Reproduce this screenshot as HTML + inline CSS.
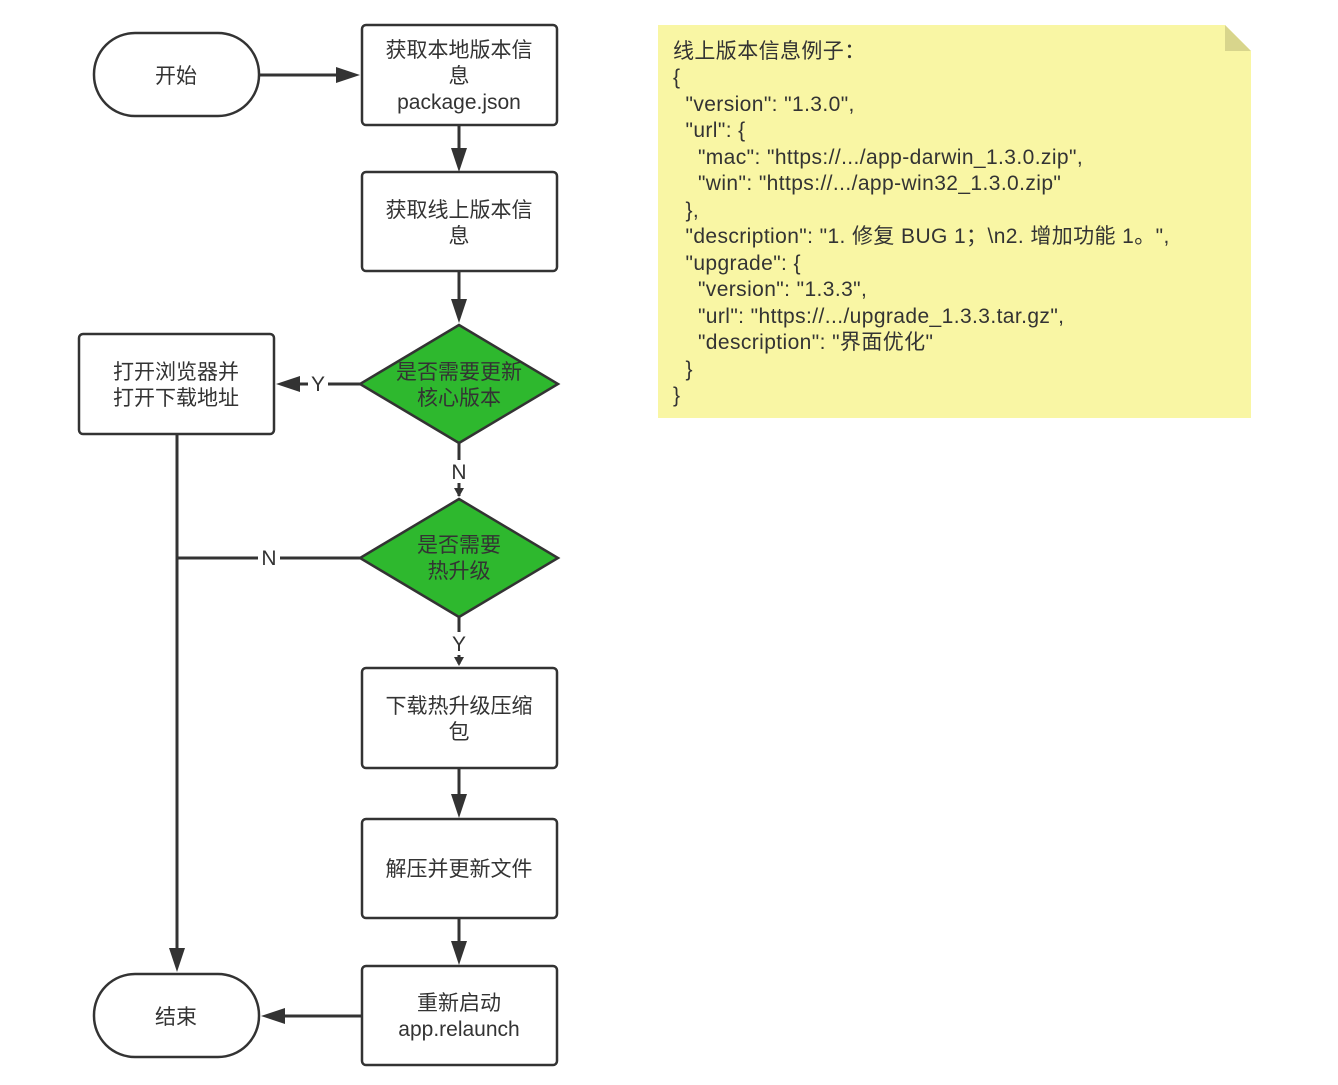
<!DOCTYPE html>
<html><head><meta charset="utf-8"><style>
body{margin:0;background:#fff;}
svg text{font-family:"Liberation Sans","Noto Sans CJK SC",sans-serif;font-size:21px;fill:#333;}
</style></head><body>
<svg width="1338" height="1080" viewBox="0 0 1338 1080" xmlns="http://www.w3.org/2000/svg">
<g stroke="#333" stroke-width="2.5" fill="#fff">
<rect x="94" y="33" width="165" height="83" rx="41"/>
<rect x="362" y="25" width="195" height="100" rx="4"/>
<rect x="362" y="172" width="195" height="99" rx="4"/>
<polygon points="459,325 558,384 459,443 360,384" fill="#2eb82e"/>
<rect x="79" y="334" width="195" height="100" rx="4"/>
<polygon points="459,499 558,558 459,617 360,558" fill="#2eb82e"/>
<rect x="362" y="668" width="195" height="100" rx="4"/>
<rect x="362" y="819" width="195" height="99" rx="4"/>
<rect x="362" y="966" width="195" height="99" rx="4"/>
<rect x="94" y="974" width="165" height="83" rx="41"/>
</g>
<g stroke="#333" stroke-width="3" fill="none">
<line x1="259" y1="75" x2="338" y2="75"/>
<line x1="459" y1="125" x2="459" y2="150"/>
<line x1="459" y1="271" x2="459" y2="303"/>
<line x1="360" y1="384" x2="328" y2="384"/><line x1="308" y1="384" x2="298" y2="384"/>
<line x1="459" y1="443" x2="459" y2="460"/><line x1="459" y1="483" x2="459" y2="496"/>
<line x1="360" y1="558" x2="280" y2="558"/><line x1="258" y1="558" x2="177" y2="558"/>
<line x1="177" y1="434" x2="177" y2="950"/>
<line x1="459" y1="617" x2="459" y2="632"/><line x1="459" y1="655" x2="459" y2="664"/>
<line x1="459" y1="768" x2="459" y2="796"/>
<line x1="459" y1="918" x2="459" y2="944"/>
<line x1="362" y1="1016" x2="284" y2="1016"/>
</g>
<g fill="#333">
<polygon points="360,75 336,67 336,83"/>
<polygon points="459,172 451,148 467,148"/>
<polygon points="459,323 451,299 467,299"/>
<polygon points="276,384 300,376 300,392"/>
<polygon points="459,497 454,488 464,488"/>
<polygon points="459,666 454,657 464,657"/>
<polygon points="459,818 451,794 467,794"/>
<polygon points="459,965 451,941 467,941"/>
<polygon points="177,972 169,948 185,948"/>
<polygon points="261,1016 285,1008 285,1024"/>
</g>
<g text-anchor="middle">
<text x="176" y="83">开始</text>
<text x="459" y="57">获取本地版本信</text><text x="459" y="83">息</text><text x="459" y="109">package.json</text>
<text x="459" y="217">获取线上版本信</text><text x="459" y="243">息</text>
<text x="459" y="379">是否需要更新</text><text x="459" y="405">核心版本</text>
<text x="176" y="379">打开浏览器并</text><text x="176" y="405">打开下载地址</text>
<text x="318" y="391">Y</text>
<text x="459" y="479">N</text>
<text x="459" y="552">是否需要</text><text x="459" y="578">热升级</text>
<text x="269" y="565">N</text>
<text x="459" y="651">Y</text>
<text x="459" y="713">下载热升级压缩</text><text x="459" y="739">包</text>
<text x="459" y="876">解压并更新文件</text>
<text x="459" y="1010">重新启动</text><text x="459" y="1036">app.relaunch</text>
<text x="176" y="1024">结束</text>
</g>
<polygon points="658,25 1225,25 1251,51 1251,418 658,418" fill="#f9f6a4"/>
<polygon points="1225,25 1251,51 1225,51" fill="#d8d58c"/>
<g style="white-space:pre;letter-spacing:0.4px">
<text x="673" y="58" xml:space="preserve">线上版本信息例子：</text>
<text x="673" y="84" xml:space="preserve">{</text>
<text x="673" y="111" xml:space="preserve">  "version": "1.3.0",</text>
<text x="673" y="137" xml:space="preserve">  "url": {</text>
<text x="673" y="164" xml:space="preserve">    "mac": "https://.../app-darwin_1.3.0.zip",</text>
<text x="673" y="190" xml:space="preserve">    "win": "https://.../app-win32_1.3.0.zip"</text>
<text x="673" y="217" xml:space="preserve">  },</text>
<text x="673" y="243" xml:space="preserve">  "description": "1. 修复 BUG 1；\n2. 增加功能 1。",</text>
<text x="673" y="270" xml:space="preserve">  "upgrade": {</text>
<text x="673" y="296" xml:space="preserve">    "version": "1.3.3",</text>
<text x="673" y="323" xml:space="preserve">    "url": "https://.../upgrade_1.3.3.tar.gz",</text>
<text x="673" y="349" xml:space="preserve">    "description": "界面优化"</text>
<text x="673" y="376" xml:space="preserve">  }</text>
<text x="673" y="402" xml:space="preserve">}</text>
</g>
</svg>
</body></html>
